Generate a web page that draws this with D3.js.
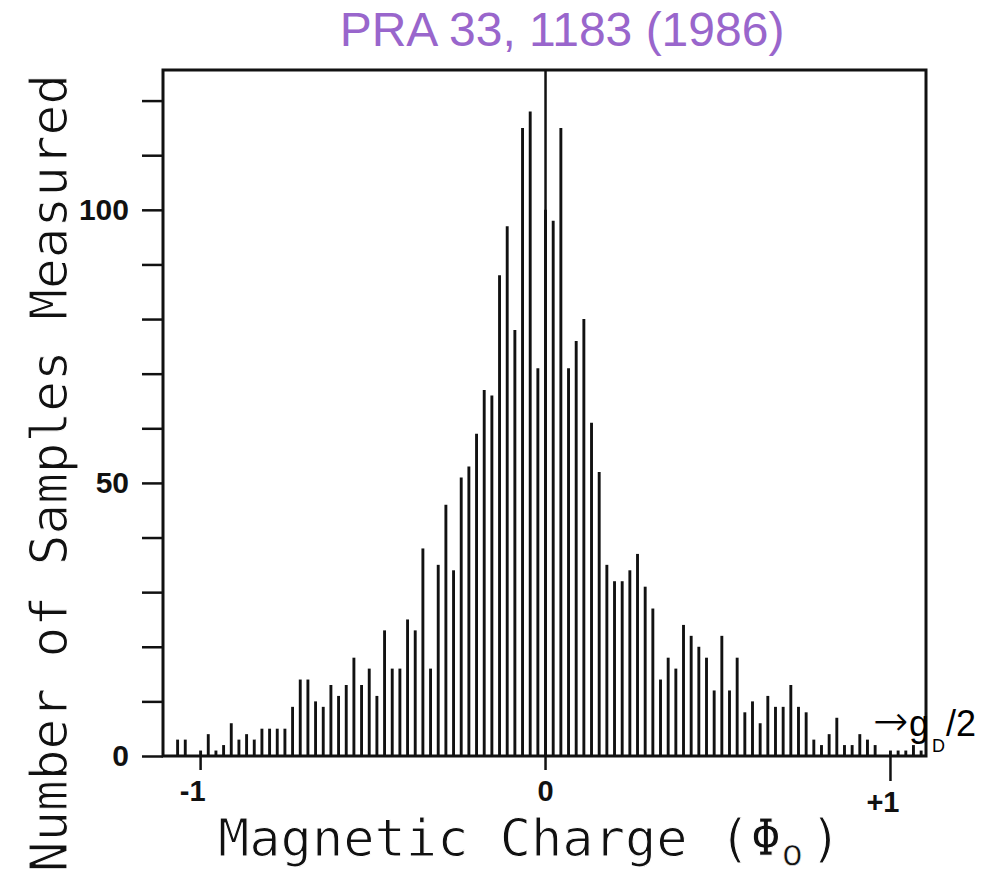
<!DOCTYPE html>
<html>
<head>
<meta charset="utf-8">
<script src="https://cdn.jsdelivr.net/npm/d3@7"></script>
<style>
body { margin: 0; background: #fff; }
svg { display: block; background: #fff; }
</style>
</head>
<body>
<svg width="984" height="872"></svg>
<script>
// bins are 1/45 of a flux quantum wide, first one centred at -48/45
var binWidth = 1 / 45;
var firstBin = -48;

// counts per bin, left to right (bin 0 sits under the zero line, estimated)
var counts = [
  3, 3, 0, 1, 4, 1, 2, 6, 3, 4,
  3, 5, 5, 5, 5, 9, 14, 14, 10, 9,
  13, 11, 13, 18, 13, 16, 11, 23, 16, 16,
  25, 23, 38, 16, 35, 46, 34, 51, 53, 59,
  67, 66, 88, 97, 78, 115, 118, 71, 100, 98,
  115, 71, 76, 80, 61, 52, 35, 32, 32, 34,
  37, 31, 27, 14, 18, 16, 24, 22, 20, 18,
  12, 22, 12, 18, 8, 10, 6, 11, 9, 9,
  13, 9, 8, 3, 2, 4, 7, 2, 2, 4,
  3, 2, 0, 1, 1, 1, 2, 1
];

var yTicks = d3.range(0, 121, 10);
var yTickLabels = [0, 50, 100];
var xTicks = [-1, 0, 1];
var xTickLabels = ["-1", "0", "+1"];

var svg = d3.select("svg");

var x = d3.scaleLinear().domain([-1.109, 1.103]).range([163, 926]);
var y = d3.scaleLinear().domain([0, 125.6]).range([756, 70]);

var bins = counts.map(function(c, i) {
  return { q: (firstBin + i) * binWidth, n: c };
});

// title
svg.append("text")
    .attr("x", 562)
    .attr("y", 46)
    .attr("text-anchor", "middle")
    .attr("font-family", "Liberation Sans, Arial, sans-serif")
    .attr("font-size", 48)
    .attr("fill", "#9966cc")
    .text("PRA 33, 1183 (1986)");

// histogram lines
svg.append("g")
    .attr("class", "bars")
  .selectAll("line")
  .data(bins.filter(function(d) { return d.n > 0; }))
  .enter().append("line")
    .attr("x1", function(d) { return x(d.q); })
    .attr("x2", function(d) { return x(d.q); })
    .attr("y1", y(0))
    .attr("y2", function(d) { return y(d.n); })
    .attr("stroke", "#111")
    .attr("stroke-width", 2.9);

// zero line through the whole frame
svg.append("line")
    .attr("x1", x(0)).attr("x2", x(0))
    .attr("y1", y.range()[1]).attr("y2", y(0))
    .attr("stroke", "#111")
    .attr("stroke-width", 2.5);

// frame
svg.append("rect")
    .attr("x", x.range()[0])
    .attr("y", y.range()[1])
    .attr("width", x.range()[1] - x.range()[0])
    .attr("height", y(0) - y.range()[1])
    .attr("fill", "none")
    .attr("stroke", "#111")
    .attr("stroke-width", 3);

// y axis, ticks pointing out
var yAxis = svg.append("g")
    .attr("transform", "translate(" + x.range()[0] + ",0)")
    .call(d3.axisLeft(y)
        .tickValues(yTicks)
        .tickSize(21)
        .tickPadding(13)
        .tickFormat(function(d) { return yTickLabels.indexOf(d) >= 0 ? d : ""; }));
yAxis.select(".domain").remove();
yAxis.selectAll(".tick line").attr("stroke", "#111").attr("stroke-width", 2.5);
yAxis.selectAll(".tick text")
    .attr("fill", "#111")
    .attr("font-family", "Liberation Sans, Arial, sans-serif")
    .attr("font-weight", "bold")
    .attr("font-size", 30);

// x axis ticks, the +1 one is longer and its label lower
var xt = svg.append("g").attr("class", "x-ticks");
xt.selectAll("line")
  .data(xTicks)
  .enter().append("line")
    .attr("x1", function(d) { return x(d); })
    .attr("x2", function(d) { return x(d); })
    .attr("y1", y(0))
    .attr("y2", function(d) { return y(0) + (d === 1 ? 25 : 14); })
    .attr("stroke", "#111")
    .attr("stroke-width", 2.5);
xt.selectAll("text")
  .data(xTicks)
  .enter().append("text")
    .attr("x", function(d) { return x(d) + (d === -1 ? 5 : d === 1 ? 9 : 0); })
    .attr("y", function(d) { return d === 1 ? 812 : 801; })
    .attr("text-anchor", function(d) { return d === 0 ? "middle" : "end"; })
    .attr("font-family", "Liberation Sans, Arial, sans-serif")
    .attr("font-weight", "bold")
    .attr("font-size", 29)
    .attr("fill", "#111")
    .text(function(d, i) { return xTickLabels[i]; });

// axis titles in a plotter-like monospace, thinned a little with a white outline
svg.append("text")
    .attr("transform", "translate(67,74) rotate(-90)")
    .attr("text-anchor", "end")
    .attr("font-family", "DejaVu Sans Mono, monospace")
    .attr("font-size", 51)
    .attr("fill", "#111")
    .attr("stroke", "#fff")
    .attr("stroke-width", 1.1)
    .text("Number of Samples Measured");

var xl = svg.append("text")
    .attr("x", 218)
    .attr("y", 856)
    .attr("font-family", "DejaVu Sans Mono, monospace")
    .attr("font-size", 52)
    .attr("fill", "#111")
    .attr("stroke", "#fff")
    .attr("stroke-width", 1.1)
    .text("Magnetic Charge (\u03A6");
xl.append("tspan")
    .attr("font-size", 36)
    .attr("stroke-width", 0.7)
    .attr("dy", 9)
    .text("o");
xl.append("tspan").attr("x", 810).attr("dy", -9).text(")");

// g_D / 2 marker
var gd = svg.append("text")
    .attr("x", 872)
    .attr("y", 736)
    .attr("font-family", "Liberation Sans, Arial, sans-serif")
    .attr("font-size", 36)
    .attr("fill", "#000");
gd.append("tspan")
    .attr("font-family", "DejaVu Sans, sans-serif")
    .attr("font-size", 44)
    .attr("stroke", "#fff")
    .attr("stroke-width", 1.2)
    .text("\u2192");
gd.append("tspan").text("g");
gd.append("tspan").attr("font-size", 18).attr("dx", 3).attr("dy", 16).text("D");
gd.append("tspan").attr("dx", 1).attr("dy", -16).text("/2");
</script>
</body>
</html>
